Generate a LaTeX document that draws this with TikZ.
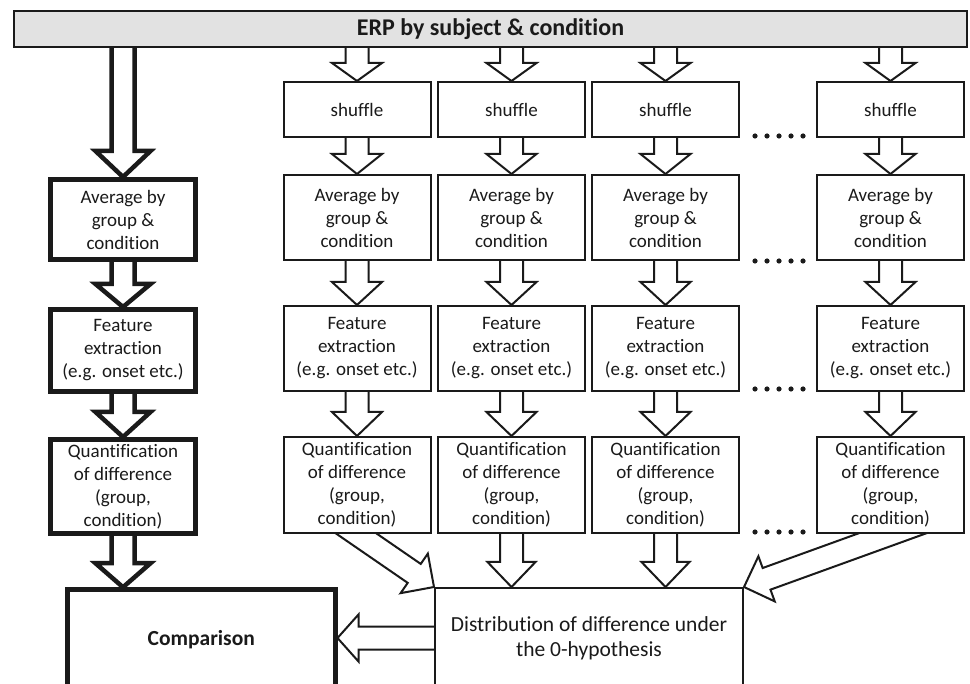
\documentclass[tikz,border=0pt]{standalone}
\usepackage{fontspec}
\setmainfont[Ligatures=NoCommon]{Carlito}
\usetikzlibrary{calc}
\pgfdeclarelayer{bg}
\pgfsetlayers{bg,main}
\definecolor{barfill}{HTML}{E2E2E2}
\definecolor{ink}{HTML}{1A1A1A}
% block arrow: #1 style, #2 start, #3 tip, #4 shaft half-width, #5 head half-width, #6 head length
\newcommand\blockarr[6]{%
  \path (#2) coordinate (ba-s) (#3) coordinate (ba-t);
  \path ($(ba-t)!#6!(ba-s)$) coordinate (ba-h);
  \filldraw[#1] ($(ba-s)!#4!90:(ba-t)$) -- ($(ba-h)!#4!90:(ba-t)$) -- ($(ba-h)!#5!90:(ba-t)$) -- (ba-t) -- ($(ba-h)!#5!-90:(ba-t)$) -- ($(ba-h)!#4!-90:(ba-t)$) -- ($(ba-s)!#4!-90:(ba-t)$) -- cycle;
}
\tikzset{
  thinbox/.style={draw=ink, line width=2pt, fill=white, align=center, inner sep=0pt,
    minimum width=147pt, text=ink, font=\fontsize{19}{23}\selectfont},
  thickbox/.style={thinbox, line width=5pt, minimum width=145pt},
  bigtext/.style={font=\fontsize{21.5}{25}\selectfont},
  thinarr/.style={draw=ink, line width=2pt, fill=white, line join=miter},
  thickarr/.style={draw=ink, line width=4.5pt, fill=white, line join=miter},
}
\begin{document}
\begin{tikzpicture}[x=1pt, y=-1pt]
\useasboundingbox (0,0) rectangle (970,684);
\clip (0,0) rectangle (970,684);
% top bar
\node[draw=ink, line width=2.5pt, fill=barfill, minimum width=953pt, minimum height=36pt, inner sep=0pt,
  text=ink, font=\fontsize{24}{28}\selectfont\bfseries] (erp) at (490.5,29) {ERP by subject \& condition};
% left column
\node[thickbox, minimum height=80pt] (la) at (123,219.5) {Average by\\group \&\\condition};
\node[thickbox, minimum height=82pt] (lf) at (123,350.5) {Feature\\extraction\\(e.g. onset etc.)};
\node[thickbox, minimum height=94pt] (lq) at (123,486.5) {Quantification\\of difference\\(group,\\condition)};
\node[thickbox, font=\fontsize{21.5}{25}\selectfont\bfseries, minimum width=267.5pt, minimum height=100pt] (comp) at (201.25,639.75) {Comparison};
% right columns
\foreach \c/\x in {1/357,2/511.5,3/665.5,4/890.5}{
  \node[thinbox, minimum height=55pt] (s\c) at (\x,109.5) {shuffle};
  \node[thinbox, minimum height=85pt] (a\c) at (\x,217.5) {Average by\\group \&\\condition};
  \node[thinbox, minimum height=85pt] (f\c) at (\x,348.5) {Feature\\extraction\\(e.g. onset etc.)};
  \node[thinbox, minimum height=96pt] (q\c) at (\x,485) {Quantification\\of difference\\(group,\\condition)};
}
\node[thinbox, bigtext, minimum width=308pt, minimum height=100pt] (dist) at (589,638) {Distribution of difference under\\the 0-hypothesis};
% dots
\foreach \yy in {136,261,389,532}
  \foreach \i in {0,...,4}
    \fill[ink] (755+12*\i,\yy) circle (2.6pt);
% helper coordinates
\coordinate (d1s) at ($(dist.north west)!1.4!(q1.south)$);
\coordinate (d4s) at ($(dist.north east)!1.4!(q4.south)$);
\coordinate (cs) at ($(dist.west)+(25,0)$);
\begin{pgfonlayer}{bg}
  % left column arrows
  \blockarr{thickarr}{erp.center -| la.north}{la.north}{11.5pt}{27.5pt}{26pt}
  \blockarr{thickarr}{la.center}{lf.north}{11.5pt}{27.5pt}{23pt}
  \blockarr{thickarr}{lf.center}{lq.north}{11.5pt}{27.5pt}{25pt}
  \blockarr{thickarr}{lq.center}{lq.south |- comp.north}{11.5pt}{27.5pt}{24pt}
  % right column arrows
  \foreach \c in {1,2,3,4}{
    \blockarr{thinarr}{erp.center -| s\c.north}{s\c.north}{11.5pt}{25pt}{18pt}
    \blockarr{thinarr}{s\c.center}{a\c.north}{11.5pt}{25pt}{20pt}
    \blockarr{thinarr}{a\c.center}{f\c.north}{11.5pt}{25pt}{23pt}
    \blockarr{thinarr}{f\c.center}{q\c.north}{11.5pt}{25pt}{24pt}
  }
  \blockarr{thinarr}{q2.center}{q2.south |- dist.north}{11.5pt}{24pt}{25pt}
  \blockarr{thinarr}{q3.center}{q3.south |- dist.north}{11.5pt}{24pt}{25pt}
  \blockarr{thinarr}{d1s}{dist.north west}{11.5pt}{24pt}{24pt}
  \blockarr{thinarr}{d4s}{dist.north east}{11.5pt}{24pt}{24pt}
  \blockarr{thinarr}{cs}{comp.east |- dist.west}{11.5pt}{23.5pt}{21pt}
\end{pgfonlayer}
\end{tikzpicture}
\end{document}
